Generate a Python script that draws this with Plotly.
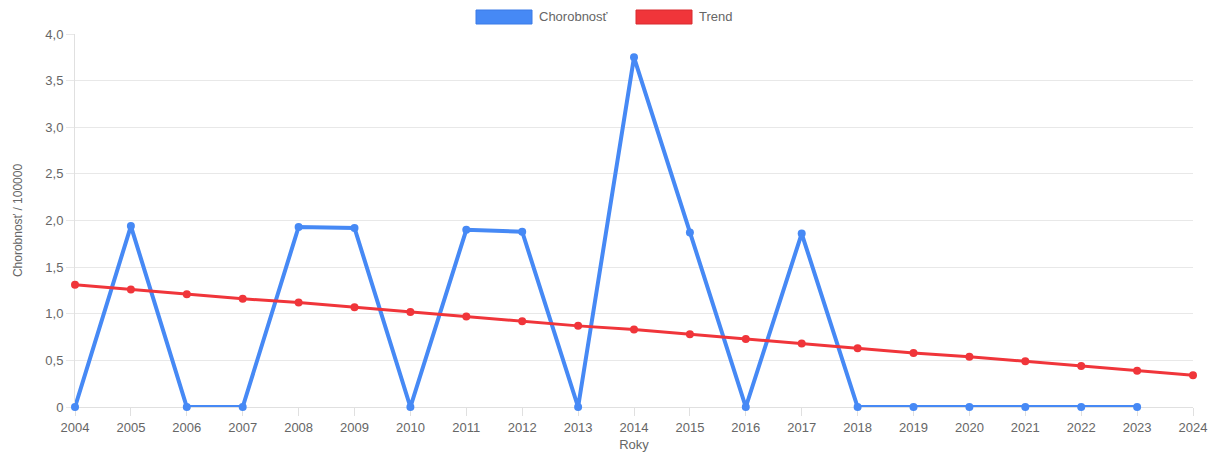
import plotly.graph_objects as go

years = list(range(2004, 2025))
chorobnost_years = list(range(2004, 2024))
chorobnost = [0, 1.94, 0, 0, 1.93, 1.92, 0, 1.90, 1.88, 0, 3.75, 1.87, 0, 1.86, 0, 0, 0, 0, 0, 0]
trend = [1.31, 1.26, 1.21, 1.16, 1.12, 1.07, 1.02, 0.97, 0.92, 0.87, 0.83, 0.78, 0.73, 0.68, 0.63, 0.58, 0.54, 0.49, 0.44, 0.39, 0.34]
y_tickvals = [0, 0.5, 1.0, 1.5, 2.0, 2.5, 3.0, 3.5, 4.0]
y_ticktext = ["0", "0,5", "1,0", "1,5", "2,0", "2,5", "3,0", "3,5", "4,0"]

BLUE = "#4689F5"
RED = "#F0353A"
FONT = "Liberation Sans, Arial, sans-serif"

fig = go.Figure()
fig.add_trace(go.Scatter(x=chorobnost_years, y=chorobnost, mode="lines+markers", name="Chorobnosť",
                         line=dict(color=BLUE, width=4), marker=dict(color=BLUE, size=8),
                         cliponaxis=False, showlegend=False))
fig.add_trace(go.Scatter(x=years, y=trend, mode="lines+markers", name="Trend",
                         line=dict(color=RED, width=3), marker=dict(color=RED, size=8),
                         cliponaxis=False, showlegend=False))

# legend boxes (Chart.js style)
shapes = []
annotations = []
legend_items = [("Chorobnosť", BLUE, "#3b7be6", 476, 532), ("Trend", RED, "#d82a2f", 636, 692)]
for label, fill, border, x0, x1 in legend_items:
    shapes.append(dict(type="rect", xref="paper", yref="paper",
                       x0=(x0 - 75) / 1118, x1=(x1 - 75) / 1118,
                       y0=(407 - 24) / 373, y1=(407 - 10) / 373,
                       fillcolor=fill, line=dict(color=border, width=1)))
    annotations.append(dict(text=label, xref="paper", yref="paper", x=(x1 + 5 - 75) / 1118,
                            y=(407 - 17) / 373, xanchor="left", yanchor="middle", showarrow=False,
                            font=dict(family=FONT, size=13, color="#666666")))

fig.update_layout(
    width=1210, height=447,
    margin=dict(l=67, r=25, t=26, b=48),
    paper_bgcolor="white", plot_bgcolor="white",
    font=dict(family=FONT, size=13, color="#666666"),
    shapes=shapes, annotations=annotations,
    xaxis=dict(range=[2004, 2024], tickmode="array", tickvals=years, ticktext=[str(y) for y in years],
               automargin=False, layer="below traces",
               showgrid=False, zeroline=False, showline=True, linecolor="#e0e0e0", linewidth=1,
               ticks="outside", ticklen=8, tickcolor="#e0e0e0",
               title=dict(text="Roky", font=dict(size=13, color="#666666"), standoff=6),
               tickfont=dict(size=13, color="#666666")),
    yaxis=dict(range=[0, 4.0], tickmode="array", tickvals=y_tickvals, ticktext=y_ticktext,
               automargin=False, layer="below traces",
               showgrid=True, gridcolor="#e8e8e8", zeroline=False, showline=True,
               linecolor="#e0e0e0", linewidth=1, ticks="outside", ticklen=8, tickcolor="#e8e8e8",
               title=dict(text="Chorobnosť / 100000", font=dict(size=12, color="#666666"), standoff=20),
               tickfont=dict(size=13, color="#666666")),
)

fig.write_html("out.html")
